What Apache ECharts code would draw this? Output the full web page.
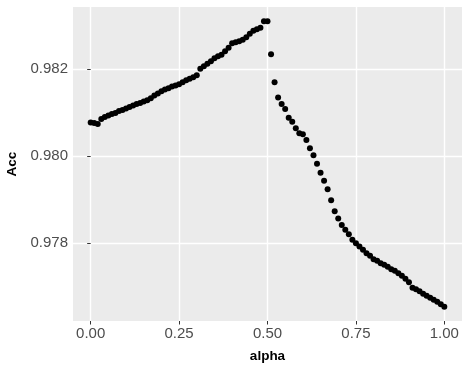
<!DOCTYPE html>
<html>
<head>
<meta charset="utf-8">
<script src="https://cdn.jsdelivr.net/npm/echarts@6/dist/echarts.min.js"></script>
<style>
    html, body { margin: 0; padding: 0; background: #fff; }
    #accchart { width: 469px; height: 371px; }
</style>
</head>
<body>
<div id="accchart"></div>
<script type="text/javascript">
    var alpha = [0.00, 0.01, 0.02, 0.03, 0.04, 0.05, 0.06, 0.07, 0.08, 0.09,
        0.10, 0.11, 0.12, 0.13, 0.14, 0.15, 0.16, 0.17, 0.18, 0.19,
        0.20, 0.21, 0.22, 0.23, 0.24, 0.25, 0.26, 0.27, 0.28, 0.29,
        0.30, 0.31, 0.32, 0.33, 0.34, 0.35, 0.36, 0.37, 0.38, 0.39,
        0.40, 0.41, 0.42, 0.43, 0.44, 0.45, 0.46, 0.47, 0.48, 0.49,
        0.50, 0.51, 0.52, 0.53, 0.54, 0.55, 0.56, 0.57, 0.58, 0.59,
        0.60, 0.61, 0.62, 0.63, 0.64, 0.65, 0.66, 0.67, 0.68, 0.69,
        0.70, 0.71, 0.72, 0.73, 0.74, 0.75, 0.76, 0.77, 0.78, 0.79,
        0.80, 0.81, 0.82, 0.83, 0.84, 0.85, 0.86, 0.87, 0.88, 0.89,
        0.90, 0.91, 0.92, 0.93, 0.94, 0.95, 0.96, 0.97, 0.98, 0.99, 1.00];
    var acc = [0.980770, 0.980759, 0.980736, 0.980851, 0.980897, 0.980931, 0.980966, 0.980989, 0.981034, 0.981057,
        0.981092, 0.981126, 0.981161, 0.981195, 0.981218, 0.981253, 0.981287, 0.981333, 0.981391, 0.981437,
        0.981494, 0.981529, 0.981563, 0.981598, 0.981621, 0.981655, 0.981701, 0.981747, 0.981782, 0.981816,
        0.981862, 0.982011, 0.982069, 0.982126, 0.982184, 0.982253, 0.982299, 0.982333, 0.982414, 0.982494,
        0.982598, 0.982621, 0.982644, 0.982678, 0.982736, 0.982816, 0.982885, 0.982920, 0.982954, 0.983103,
        0.983103, 0.982345, 0.981701, 0.981349, 0.981195, 0.981080, 0.980880, 0.980789, 0.980637, 0.980522,
        0.980499, 0.980368, 0.980177, 0.980016, 0.979823, 0.979616, 0.979432, 0.979235, 0.978982, 0.978729,
        0.978559, 0.978414, 0.978299, 0.978200, 0.978069, 0.977993, 0.977915, 0.977839, 0.977763, 0.977701,
        0.977621, 0.977586, 0.977529, 0.977494, 0.977448, 0.977391, 0.977356, 0.977299, 0.977241, 0.977172,
        0.977092, 0.976966, 0.976931, 0.976885, 0.976828, 0.976782, 0.976736, 0.976690, 0.976644, 0.976586, 0.976529];
    var xTicks = [0, 0.25, 0.5, 0.75, 1];
    var xMinor = [0.125, 0.375, 0.625, 0.875];
    var yTicks = [0.978, 0.980, 0.982];
    var yMinor = [0.977, 0.979, 0.981, 0.983];

    var fontName = "'Liberation Sans', Arial, sans-serif";

    // ggplot style: 5% padding on both ends
    function padMin(v) { return v.min - (v.max - v.min) * 0.05; }
    function padMax(v) { return v.max + (v.max - v.min) * 0.05; }

    function majorAxis(ticks, digits, extra) {
        var axis = {
            type: 'value',
            axisLine: { show: false },
            axisTick: { show: true, length: 3.5, customValues: ticks, lineStyle: { color: '#333333', width: 1 } },
            axisLabel: {
                customValues: ticks,
                color: '#4D4D4D',
                fontFamily: fontName,
                fontSize: 15,
                margin: 5,
                formatter: function (v) { return v.toFixed(digits); }
            },
            splitLine: { show: true, lineStyle: { color: '#FFFFFF', width: 1.4 } },
            nameLocation: 'middle',
            nameTextStyle: { color: '#000000', fontFamily: fontName, fontSize: 13.5, fontWeight: 'bold' }
        };
        for (var k in extra) axis[k] = extra[k];
        return axis;
    }

    function minorAxis(ticks, min, max) {
        return {
            type: 'value',
            min: min,
            max: max,
            axisLine: { show: false },
            axisTick: { show: false, customValues: ticks },
            axisLabel: { show: false, customValues: ticks },
            splitLine: { show: true, lineStyle: { color: '#FFFFFF', width: 0.7 } },
            z: -1
        };
    }

    function initChart(id) {
        var myChart = echarts.init(document.getElementById(id), null, { renderer: 'canvas' });
        var points = [];
        for (var i = 0; i < alpha.length; i++) {
            points.push([alpha[i], acc[i]]);
        }
        var xr = { min: Math.min.apply(null, alpha), max: Math.max.apply(null, alpha) };
        var yr = { min: Math.min.apply(null, acc), max: Math.max.apply(null, acc) };
        var xLo = padMin(xr), xHi = padMax(xr);
        var yLo = padMin(yr), yHi = padMax(yr);

        var option = {
            animation: false,
            backgroundColor: '#FFFFFF',
            grid: {
                left: 73, right: 7, top: 7, bottom: 50,
                containLabel: false, outerBoundsMode: 'none',
                show: true, backgroundColor: '#EBEBEB', borderWidth: 0
            },
            xAxis: [
                majorAxis(xTicks, 2, { name: 'alpha', nameGap: 28, min: xLo, max: xHi }),
                minorAxis(xMinor, xLo, xHi)
            ],
            yAxis: [
                majorAxis(yTicks, 3, { name: 'Acc', nameGap: 53, min: yLo, max: yHi }),
                minorAxis(yMinor, yLo, yHi)
            ],
            series: [{
                type: 'scatter',
                xAxisIndex: 0,
                yAxisIndex: 0,
                symbolSize: 6,
                itemStyle: { color: '#000000', opacity: 1 },
                data: points
            }]
        };
        myChart.setOption(option, true);
    }

    initChart('accchart');
</script>
</body>
</html>
